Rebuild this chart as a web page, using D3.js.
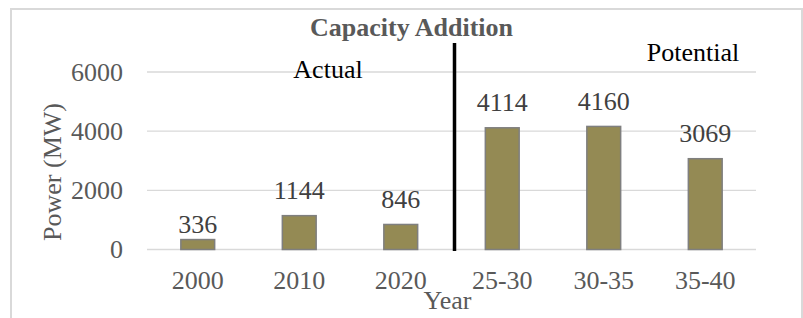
<!DOCTYPE html>
<html>
<head>
<meta charset="utf-8">
<script src="https://cdn.jsdelivr.net/npm/d3@7"></script>
<style>
  body { margin: 0; background: #fff; }
  text { font-family: "Liberation Serif", "Times New Roman", serif; }
</style>
</head>
<body>
<div id="chart"></div>
<script>
// chart data
const years = ["2000", "2010", "2020", "25-30", "30-35", "35-40"];
const power = [336, 1144, 846, 4114, 4160, 3069];
const yTicks = [0, 2000, 4000, 6000];

const width = 803, height = 318;
const margin = { top: 72, left: 147, right: 47, bottom: 68.5 };

let svg = d3.select("#chart")
    .append("svg")
    .attr("width", width)
    .attr("height", height);

// outer border
svg.append("rect")
    .attr("x", 11).attr("y", 9)
    .attr("width", 791).attr("height", 320)
    .attr("fill", "none")
    .attr("stroke", "#d9d9d9")
    .attr("stroke-width", 2);

const x = d3.scaleBand()
    .domain(years)
    .range([margin.left, width - margin.right])
    .paddingInner(2 / 3)
    .paddingOuter(1 / 3);

const y = d3.scaleLinear()
    .domain([0, 6000])
    .range([height - margin.bottom, margin.top]);

// gridlines
svg.append("g")
    .selectAll("line")
    .data(yTicks)
    .enter()
    .append("line")
    .attr("x1", margin.left)
    .attr("x2", width - margin.right)
    .attr("y1", d => y(d))
    .attr("y2", d => y(d))
    .attr("stroke", "#d9d9d9")
    .attr("stroke-width", 1.3);

// y axis labels
const yAxis = svg.append("g")
    .attr("transform", "translate(" + (margin.left - 24) + ",0)")
    .call(d3.axisLeft(y).tickValues(yTicks).tickSize(0).tickFormat(d3.format("d")));
yAxis.select(".domain").remove();
yAxis.selectAll("text")
    .attr("x", 0)
    .attr("font-size", 26)
    .attr("fill", "#595959")
    .style("font-family", "'Liberation Serif', serif");

// x axis labels
const xAxis = svg.append("g")
    .attr("transform", "translate(0," + y(0) + ")")
    .call(d3.axisBottom(x).tickSize(0));
xAxis.select(".domain").remove();
xAxis.selectAll("text")
    .attr("y", 21)
    .attr("font-size", 26)
    .attr("fill", "#595959")
    .style("font-family", "'Liberation Serif', serif");

// bars
svg.append("g")
    .selectAll("rect")
    .data(power)
    .enter()
    .append("rect")
    .attr("x", (d, i) => x(years[i]))
    .attr("y", d => y(d))
    .attr("width", x.bandwidth())
    .attr("height", d => y(0) - y(d))
    .attr("fill", "#948a54")
    .attr("stroke", "#7f7f7f")
    .attr("stroke-width", 1.5);

// value labels (the small one sits closer to its bar)
svg.append("g")
    .selectAll("text")
    .data(power)
    .enter()
    .append("text")
    .attr("x", (d, i) => x(years[i]) + x.bandwidth() / 2)
    .attr("y", d => y(d) - (d < 500 ? 7 : 16.5))
    .attr("text-anchor", "middle")
    .attr("font-size", 26)
    .attr("fill", "#404040")
    .text(d => d);

// divider between actual and potential
const splitX = x(years[3]) - x.step() * x.paddingInner() / 2 - 3 * 0 + 3;
svg.append("line")
    .attr("x1", splitX).attr("x2", splitX)
    .attr("y1", y(6000) - 29)
    .attr("y2", y(0) + 1.5)
    .attr("stroke", "#000")
    .attr("stroke-width", 3.5);

// title + annotations
svg.append("text")
    .attr("x", 411.5).attr("y", 36)
    .attr("text-anchor", "middle")
    .attr("font-size", 26)
    .attr("font-weight", "bold")
    .attr("fill", "#595959")
    .text("Capacity Addition");

svg.append("text")
    .attr("x", 328).attr("y", 78)
    .attr("text-anchor", "middle")
    .attr("font-size", 26)
    .attr("fill", "#000")
    .text("Actual");

svg.append("text")
    .attr("x", 693).attr("y", 61)
    .attr("text-anchor", "middle")
    .attr("font-size", 26)
    .attr("fill", "#000")
    .text("Potential");

// axis titles
svg.append("text")
    .attr("transform", "translate(61,172) rotate(-90)")
    .attr("text-anchor", "middle")
    .attr("font-size", 26)
    .attr("fill", "#595959")
    .text("Power (MW)");

svg.append("text")
    .attr("x", 447.5).attr("y", 309)
    .attr("text-anchor", "middle")
    .attr("font-size", 26)
    .attr("fill", "#595959")
    .text("Year");
</script>
</body>
</html>
